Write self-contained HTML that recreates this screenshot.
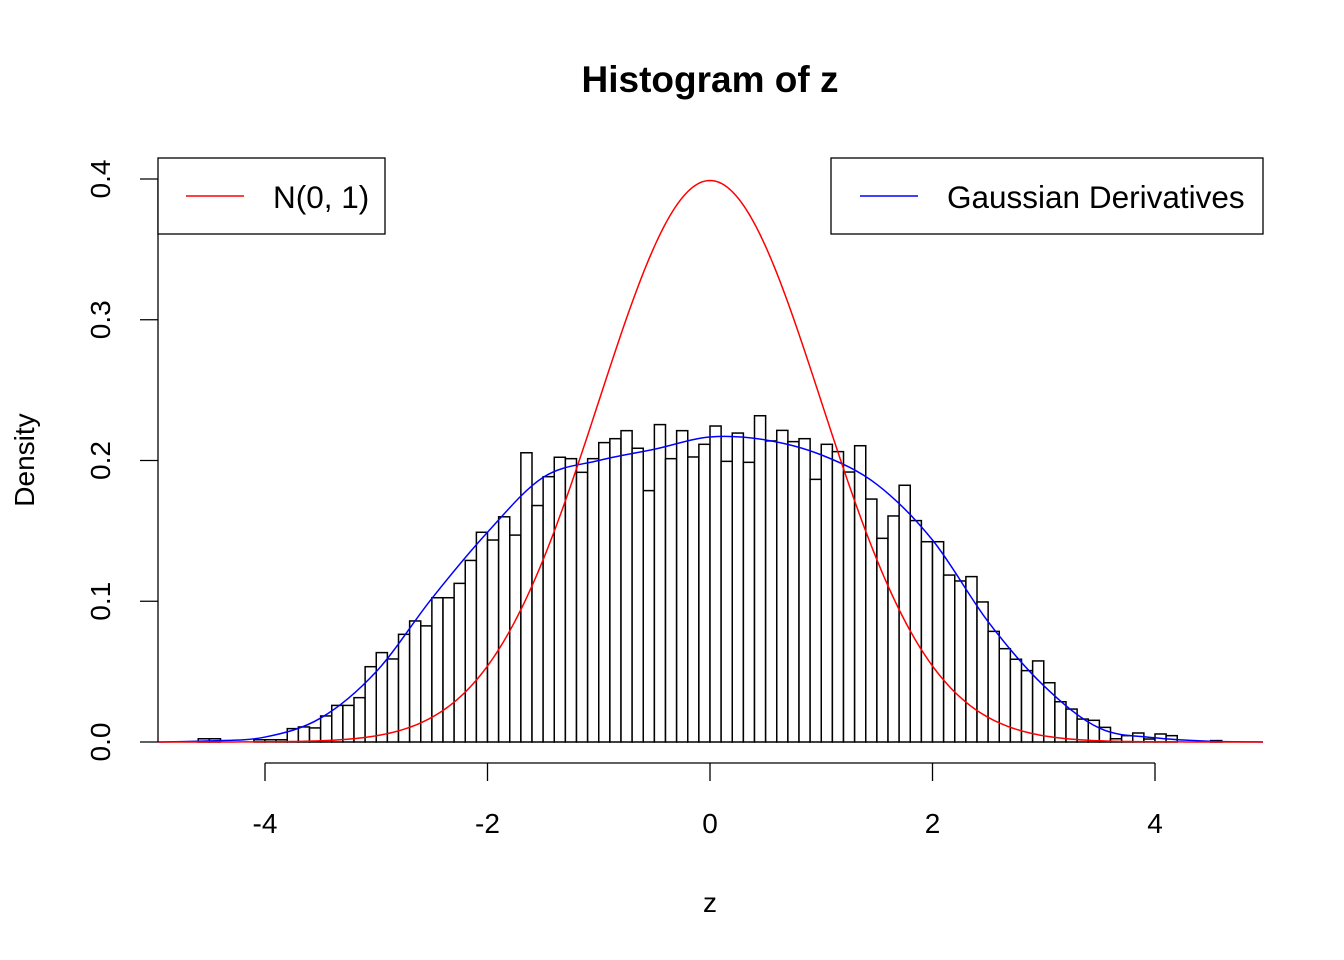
<!DOCTYPE html>
<html><head><meta charset="utf-8"><style>
body{margin:0;background:#fff;}
svg{display:block;font-family:"Liberation Sans",Arial,sans-serif;}
</style></head><body>
<svg id="chart" width="1344" height="960" viewBox="0 0 1344 960">
<text x="710" y="92" text-anchor="middle" font-size="37" font-weight="bold">Histogram of z</text>
<text x="710" y="912" text-anchor="middle" font-size="28">z</text>
<text transform="translate(34,460) rotate(-90)" text-anchor="middle" font-size="28">Density</text>
<g id="bars"></g>
<g id="curves"></g>
<g id="xaxis"></g>
<g id="yaxis"></g>
<g>
<rect x="158" y="158" width="227" height="76" fill="#fff" stroke="#000" stroke-width="1.3"/>
<line x1="186" y1="196" x2="244" y2="196" stroke="#f00" stroke-width="1.5"/>
<text x="273" y="208" font-size="31.5">N(0, 1)</text>
</g>
<g>
<rect x="831" y="158" width="432" height="76" fill="#fff" stroke="#000" stroke-width="1.3"/>
<line x1="860" y1="196" x2="918" y2="196" stroke="#00f" stroke-width="1.5"/>
<text x="947" y="208" font-size="31.5">Gaussian Derivatives</text>
</g>
</svg>
<script>
const binStart = -4.6;
const binWidth = 0.1;
const densities = [0.0023,0.0023,0,0,0,0.0016,0.0016,0.0016,0.0095,0.0107,0.010,0.0185,0.026,0.026,0.0315,0.0535,0.0635,0.059,0.0765,0.086,0.0825,0.1025,0.1025,0.1127,0.129,0.149,0.1435,0.16,0.147,0.2055,0.168,0.1885,0.2023,0.2013,0.1916,0.2013,0.2127,0.2155,0.2212,0.2087,0.1786,0.2255,0.2013,0.2212,0.2025,0.2115,0.2245,0.1994,0.2195,0.1987,0.2318,0.2139,0.2214,0.2134,0.2155,0.1866,0.2115,0.2063,0.1918,0.2105,0.1726,0.1447,0.1606,0.1824,0.1573,0.1423,0.1423,0.1186,0.1144,0.1175,0.0995,0.0786,0.0663,0.0588,0.0507,0.0576,0.0421,0.0286,0.0234,0.0163,0.0154,0.0104,0.0023,0.0045,0.0064,0.0021,0.0057,0.0045,0,0,0,0.001];
const gdX = [-4.96,-4.5,-4,-3.5,-3,-2.5,-2,-1.5,-1,-0.5,0,0.5,1,1.5,2,2.5,3,3.5,4,4.5,4.97];
const gdY = [0,0.0008,0.0035,0.017,0.05,0.102,0.149,0.188,0.200,0.208,0.2167,0.2146,0.204,0.183,0.1435,0.0855,0.04,0.0099,0.003,0.0005,0];
const normMean = [0];
const normSd = [1];
const xTicks = [-4,-2,0,2,4];
const yTicks = [0,0.1,0.2,0.3,0.4];
const yTickLabels = ["0.0","0.1","0.2","0.3","0.4"];
const xRange = [-4.96,4.97];

const NS="http://www.w3.org/2000/svg";
const sx = v => 710 + v*111.25;
const sy = v => 742 - v*1407.5;
function mk(tag, attrs, parent){const e=document.createElementNS(NS,tag);for(const k in attrs)e.setAttribute(k,attrs[k]);parent.appendChild(e);return e;}

const bars=document.getElementById('bars');
densities.forEach((d,i)=>{
  const x0=sx(binStart+i*binWidth), x1=sx(binStart+(i+1)*binWidth);
  const r=mk('rect',{x:x0,y:sy(d),width:x1-x0,height:sy(0)-sy(d),fill:'#fff',stroke:'#000','stroke-width':1.5},bars);
  
  
});

const curves=document.getElementById('curves');
let pts=gdX.map((x,i)=>[sx(x),sy(gdY[i])]);
let d='M'+pts[0][0]+','+pts[0][1];
for(let i=0;i<pts.length-1;i++){
  const p0=pts[Math.max(0,i-1)],p1=pts[i],p2=pts[i+1],p3=pts[Math.min(pts.length-1,i+2)];
  const c1=[p1[0]+(p2[0]-p0[0])/6,p1[1]+(p2[1]-p0[1])/6];
  const c2=[p2[0]-(p3[0]-p1[0])/6,p2[1]-(p3[1]-p1[1])/6];
  d+=` C${c1[0]},${c1[1]} ${c2[0]},${c2[1]} ${p2[0]},${p2[1]}`;
}
const blue=mk('path',{d:d,fill:'none',stroke:'#00f','stroke-width':1.5},curves);


let rd='';
for(let k=0;k<=400;k++){
  const x=xRange[0]+(xRange[1]-xRange[0])*k/400;
  const m=normMean[0],s=normSd[0];
  const y=Math.exp(-0.5*((x-m)/s)**2)/(s*Math.sqrt(2*Math.PI));
  rd+=(k?'L':'M')+sx(x).toFixed(2)+','+sy(y).toFixed(2);
}
const red=mk('path',{d:rd,fill:'none',stroke:'#f00','stroke-width':1.5},curves);



const xa=document.getElementById('xaxis');
mk('line',{x1:sx(xTicks[0]),y1:763,x2:sx(xTicks[xTicks.length-1]),y2:763,stroke:'#000','stroke-width':1.3},xa);
xTicks.forEach(t=>{
  mk('line',{x1:sx(t),y1:763,x2:sx(t),y2:781,stroke:'#000','stroke-width':1.3},xa);
  const tx=mk('text',{x:sx(t),y:833,'text-anchor':'middle','font-size':28},xa);
  tx.textContent=String(t);
  
  
});
const ya=document.getElementById('yaxis');
mk('line',{x1:158,y1:sy(yTicks[0]),x2:158,y2:sy(yTicks[yTicks.length-1]),stroke:'#000','stroke-width':1.3},ya);
yTicks.forEach((t,i)=>{
  mk('line',{x1:140,y1:sy(t),x2:158,y2:sy(t),stroke:'#000','stroke-width':1.3},ya);
  const tx=mk('text',{transform:`translate(110,${sy(t)}) rotate(-90)`,'text-anchor':'middle','font-size':28},ya);
  tx.textContent=yTickLabels[i];
  
  
});
</script>
</body></html>
